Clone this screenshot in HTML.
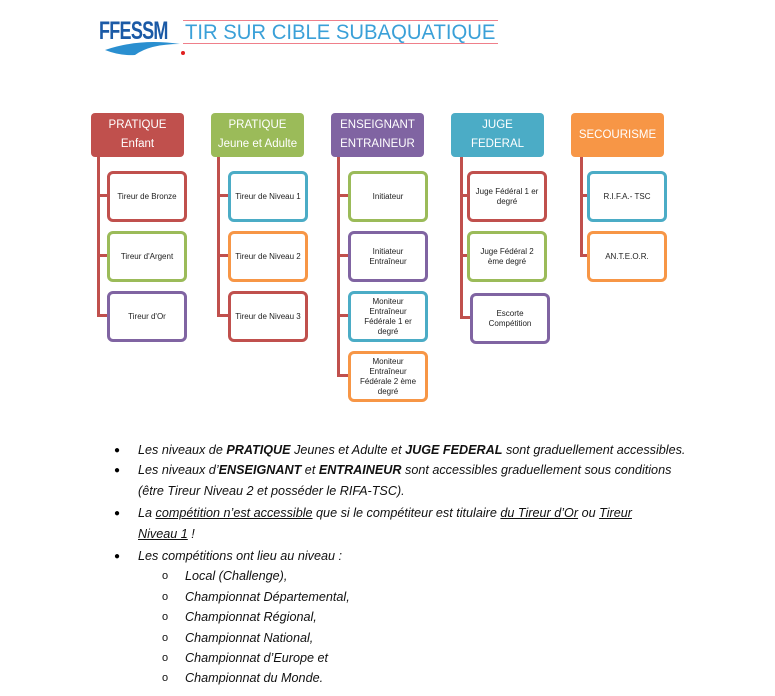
<!DOCTYPE html>
<html><head><meta charset="utf-8"><style>
body{margin:0;width:775px;height:696px;background:#fff;position:relative;overflow:hidden;font-family:"Liberation Sans",sans-serif}
.a{position:absolute}
.h{position:absolute;width:93px;height:44px;border-radius:4px;color:#fff;font-size:11.5px;display:flex;align-items:center;justify-content:center;text-align:center;line-height:19px}
.c{position:absolute;width:74px;height:45px;border:3px solid;border-radius:6px;background:#fff;font-size:8px;display:flex;align-items:center;justify-content:center;text-align:center;line-height:10px;color:#222}
.v{position:absolute;width:3px;background:#C0504D}
.hz{position:absolute;height:3px;background:#C0504D}
.t{position:absolute;font-style:italic;font-size:13px;white-space:nowrap;transform:scaleX(0.97);transform-origin:left center;color:#111;line-height:16px}
.b{position:absolute;font-size:10px}
</style></head><body>
<!-- logo -->
<div class="a" style="left:99px;top:17px;font-size:25px;font-weight:bold;color:#1b5aa6;transform:scaleX(0.72);transform-origin:left;letter-spacing:-1px">FFESSM</div>
<svg class="a" style="left:100px;top:38px" width="90" height="20"><path d="M5 12 Q40 0 80 6 Q50 6 35 17 Q20 18 5 12Z" fill="#2a8fd0"/><circle cx="83" cy="15" r="2" fill="#e02020"/></svg>
<div class="a" style="left:183px;top:20px;width:315px;height:1px;background:#ef7f8a"></div>
<div class="a" style="left:183px;top:43px;width:315px;height:1px;background:#ef7f8a"></div>
<div class="a" style="left:185px;top:21px;font-size:21px;color:#3aa0d8;white-space:nowrap;transform:scaleX(0.965);transform-origin:left">TIR SUR CIBLE SUBAQUATIQUE</div>

<!-- headers -->
<div class="h" style="left:91px;top:113px;background:#C0504D">PRATIQUE<br>Enfant</div>
<div class="h" style="left:211px;top:113px;background:#9BBB59">PRATIQUE<br>Jeune et Adulte</div>
<div class="h" style="left:331px;top:113px;background:#8064A2">ENSEIGNANT<br>ENTRAINEUR</div>
<div class="h" style="left:451px;top:113px;background:#4BACC6">JUGE<br>FEDERAL</div>
<div class="h" style="left:571px;top:113px;background:#F79646">SECOURISME</div>

<!-- connectors -->
<div class="v" style="left:97px;top:157px;height:160px"></div>
<div class="hz" style="left:97px;top:194px;width:12px"></div><div class="hz" style="left:97px;top:254px;width:12px"></div><div class="hz" style="left:97px;top:314px;width:12px"></div>
<div class="v" style="left:217px;top:157px;height:160px"></div>
<div class="hz" style="left:217px;top:194px;width:12px"></div><div class="hz" style="left:217px;top:254px;width:12px"></div><div class="hz" style="left:217px;top:314px;width:12px"></div>
<div class="v" style="left:337px;top:157px;height:220px"></div>
<div class="hz" style="left:337px;top:194px;width:12px"></div><div class="hz" style="left:337px;top:254px;width:12px"></div><div class="hz" style="left:337px;top:314px;width:12px"></div><div class="hz" style="left:337px;top:374px;width:12px"></div>
<div class="v" style="left:460px;top:157px;height:162px"></div>
<div class="hz" style="left:460px;top:194px;width:9px"></div><div class="hz" style="left:460px;top:254px;width:9px"></div><div class="hz" style="left:460px;top:316px;width:12px"></div>
<div class="v" style="left:580px;top:157px;height:100px"></div>
<div class="hz" style="left:580px;top:194px;width:9px"></div><div class="hz" style="left:580px;top:254px;width:9px"></div>

<!-- children -->
<div class="c" style="left:107px;top:171px;border-color:#C0504D">Tireur de Bronze</div>
<div class="c" style="left:107px;top:231px;border-color:#9BBB59">Tireur d'Argent</div>
<div class="c" style="left:107px;top:291px;border-color:#8064A2">Tireur d'Or</div>
<div class="c" style="left:228px;top:171px;border-color:#4BACC6">Tireur de Niveau 1</div>
<div class="c" style="left:228px;top:231px;border-color:#F79646">Tireur de Niveau 2</div>
<div class="c" style="left:228px;top:291px;border-color:#C0504D">Tireur de Niveau 3</div>
<div class="c" style="left:348px;top:171px;border-color:#9BBB59">Initiateur</div>
<div class="c" style="left:348px;top:231px;border-color:#8064A2">Initiateur<br>Entraîneur</div>
<div class="c" style="left:348px;top:291px;border-color:#4BACC6">Moniteur<br>Entraîneur<br>Fédérale 1 er<br>degré</div>
<div class="c" style="left:348px;top:351px;border-color:#F79646">Moniteur<br>Entraîneur<br>Fédérale 2 ème<br>degré</div>
<div class="c" style="left:467px;top:171px;border-color:#C0504D">Juge Fédéral 1 er<br>degré</div>
<div class="c" style="left:467px;top:231px;border-color:#9BBB59">Juge Fédéral 2<br>ème degré</div>
<div class="c" style="left:470px;top:293px;border-color:#8064A2">Escorte<br>Compétition</div>
<div class="c" style="left:587px;top:171px;border-color:#4BACC6">R.I.F.A.- TSC</div>
<div class="c" style="left:587px;top:231px;border-color:#F79646">AN.T.E.O.R.</div>

<!-- bullets -->
<div class="b" style="left:114px;top:445px">●</div>
<div class="t" style="left:138px;top:442px">Les niveaux de <b>PRATIQUE</b> Jeunes et Adulte et <b>JUGE FEDERAL</b> sont graduellement accessibles.</div>
<div class="b" style="left:114px;top:465px">●</div>
<div class="t" style="left:138px;top:462px">Les niveaux d’<b>ENSEIGNANT</b> et <b>ENTRAINEUR</b> sont accessibles graduellement sous conditions</div>
<div class="t" style="left:138px;top:483px">(être Tireur Niveau 2 et posséder le RIFA-TSC).</div>
<div class="b" style="left:114px;top:508px">●</div>
<div class="t" style="left:138px;top:505px">La <u>compétition n’est accessible</u> que si le compétiteur est titulaire <u>du Tireur d’Or</u> ou <u>Tireur</u></div>
<div class="t" style="left:138px;top:526px"><u>Niveau 1</u> !</div>
<div class="b" style="left:114px;top:551px">●</div>
<div class="t" style="left:138px;top:548px">Les compétitions ont lieu au niveau :</div>
<div class="t" style="left:162px;top:568px;transform:none;font-style:normal;font-size:11px">o</div><div class="t" style="left:185px;top:568px">Local (Challenge),</div>
<div class="t" style="left:162px;top:589px;transform:none;font-style:normal;font-size:11px">o</div><div class="t" style="left:185px;top:589px">Championnat Départemental,</div>
<div class="t" style="left:162px;top:609px;transform:none;font-style:normal;font-size:11px">o</div><div class="t" style="left:185px;top:609px">Championnat Régional,</div>
<div class="t" style="left:162px;top:630px;transform:none;font-style:normal;font-size:11px">o</div><div class="t" style="left:185px;top:630px">Championnat National,</div>
<div class="t" style="left:162px;top:650px;transform:none;font-style:normal;font-size:11px">o</div><div class="t" style="left:185px;top:650px">Championnat d’Europe et</div>
<div class="t" style="left:162px;top:670px;transform:none;font-style:normal;font-size:11px">o</div><div class="t" style="left:185px;top:670px">Championnat du Monde.</div>
</body></html>
